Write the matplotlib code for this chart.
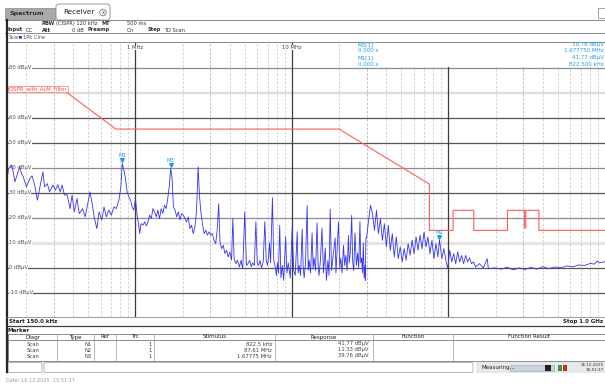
import matplotlib
matplotlib.use("Agg")
import matplotlib.pyplot as plt
import matplotlib.transforms as mtransforms
from matplotlib.patches import Rectangle, FancyBboxPatch, Circle
from matplotlib.ticker import NullLocator

# ── trace data (MHz / dBuV) ──────────────────────────────────────────────
f_band1 = [0.1532, 0.1539, 0.158, 0.1618, 0.1655, 0.1697, 0.176, 0.1826, 0.187, 0.1916,
           0.2012, 0.2112, 0.2184, 0.2225, 0.2272, 0.2362, 0.2443, 0.2563, 0.2628, 0.2733,
           0.2827, 0.2967, 0.3085, 0.319, 0.3304, 0.3401, 0.3518, 0.3658, 0.3822, 0.3935,
           0.4069, 0.4231, 0.4376, 0.4592, 0.4775, 0.4939, 0.5114, 0.5266, 0.5446, 0.5665,
           0.5857, 0.6091, 0.6299, 0.6514, 0.6776, 0.7007, 0.7288, 0.7536, 0.784, 0.8073,
           0.8225, 0.8432, 0.8643, 0.8848, 0.9071, 0.9298, 0.9517, 0.9755]
l_band1 = [37.5, 39.1, 40.5, 41.1, 38.5, 34.4, 37.5, 40.4, 37.7, 36.5,
           32.4, 35.7, 36.8, 35.0, 33.1, 27.1, 31.7, 38.4, 32.4, 33.7,
           30.4, 33.1, 31.1, 33.3, 30.4, 33.1, 29.1, 29.3, 23.7, 29.1,
           22.4, 27.7, 21.7, 23.7, 20.4, 25.1, 30.4, 26.4, 20.4, 15.7,
           22.4, 19.1, 24.4, 20.4, 23.1, 21.1, 24.4, 23.7, 27.1, 32.4,
           41.77, 39.1, 35.7, 30.4, 28.4, 27.1, 24.4, 23.1]

f_band2 = [1.0, 1.0236, 1.0493, 1.0647, 1.0849, 1.1171, 1.1452, 1.1739, 1.2015, 1.2317,
           1.2626, 1.2923, 1.3247, 1.358, 1.39, 1.4249, 1.4606, 1.495, 1.5325, 1.571,
           1.608, 1.6484, 1.6726, 1.67775, 1.7148, 1.7476, 1.7916, 1.8337, 1.8799, 1.9269,
           1.9722, 2.0218, 2.0727, 2.1214, 2.1746, 2.2293, 2.2818, 2.3392, 2.3977, 2.4545,
           2.5159, 2.5644, 2.617, 2.6786, 2.746, 2.815, 2.8813, 2.9535, 3.0274, 3.0986,
           3.1764, 3.2562, 3.3329, 3.401, 3.4666, 3.5532, 3.6375, 3.7285, 3.8222, 3.9121,
           4.0107, 4.1109, 4.1902, 4.2702, 4.3769, 4.487, 4.62, 4.7289, 4.8475, 4.9913]
l_band2 = [27.7, 21.1, 17.1, 13.7, 17.7, 17.1, 18.4, 16.8, 18.4, 21.1,
           19.7, 23.7, 22.4, 20.4, 23.1, 19.7, 23.7, 21.7, 25.1, 23.7,
           27.7, 33.1, 38.4, 39.76, 35.7, 24.4, 23.1, 20.4, 22.4, 19.1,
           21.7, 21.1, 19.7, 18.4, 20.4, 15.7, 17.1, 13.7, 16.4, 22.4,
           40.4, 29.1, 22.4, 17.7, 13.7, 15.1, 13.1, 14.4, 13.1, 13.7,
           11.1, 9.7, 15.7, 25.7, 10.4, 7.7, 9.1, 5.7, 7.1, 4.4,
           6.4, 3.1, 19.7, 3.7, 1.7, 3.1, 0.4, 3.1, -0.3, 22.4]

f_band3 = [5.117, 5.21, 5.37, 5.5, 5.61, 5.75, 5.88, 6.0, 6.12, 6.25,
           6.39, 6.55, 6.71, 6.85, 6.98, 7.08, 7.18, 7.3, 7.5, 7.65,
           7.84, 7.95, 8.07, 8.2, 8.35, 8.5, 8.68, 8.85, 9.11, 9.28,
           9.47, 9.75, 10.04, 10.25, 10.49, 10.8, 10.95, 11.12, 11.35, 11.62,
           11.8, 11.96, 12.2, 12.5, 12.7, 12.87, 13.15, 13.44, 13.65, 13.84,
           14.15, 14.46, 14.7, 14.89, 15.2, 15.55, 15.9, 16.32, 16.6, 16.97,
           17.25, 17.55, 17.9, 18.26, 18.87, 19.1, 19.35, 19.84, 20.2, 20.51,
           20.9, 21.34, 21.7, 22.07, 22.5, 22.96, 23.2, 23.6, 24.08, 24.4,
           24.8, 25.27, 25.8, 26.29, 26.7, 27.19, 27.5, 27.87, 28.2, 28.56,
           28.9, 29.24, 29.45, 29.67]
l_band3 = [1.1, 1.5, 3, 0.5, 2, 1, 18.5, 2, 1, 3,
           0, 2.5, 18.5, 3, 1, 4, 10, 2, 28, 3,
           0, -3, 2, -2, 17, -4, 1, -5, 12.5, -2,
           2, -4, 16.5, -1, -3, 14.5, -2, 1, -3, 15.5,
           0, -4, 2, 25, -1, 3, -2, 14, 0, 4,
           -1, 18, 1, -3, 3, 16, -2, 8, -5, 3,
           -3, 23.5, -1, 4, 12, -2, 5, 18.5, 0, 4,
           -2, 9, 1, 5, -1, 13, 2, 6, 21, 3,
           -1, 14, 1, 6, 0, 18.5, 2, 4, -2, 10,
           -4, 1, -5, 12]

f_band4 = [29.97, 30.85, 31.76, 32.7, 33.66, 34.66, 35.68, 36.74, 37.82, 38.94,
           40.09, 41.27, 42.49, 43.75, 45.04, 46.38, 47.75, 49.16, 50.61, 52.11,
           53.65, 55.24, 56.88, 58.55, 60.29, 62.08, 63.92, 65.8, 67.76, 69.77,
           71.82, 73.96, 76.13, 78.39, 80.72, 83.11, 85.56, 87.61, 90.7, 93.39,
           96.14, 98.99, 101.9, 104.9, 108.0, 111.2, 114.5, 117.9, 121.4, 125.0,
           128.7, 132.5, 136.4, 140.4, 144.6, 148.9, 157.8, 167.2, 176.6, 179.9,
           199.3, 217.5, 237.3, 259.0, 282.7, 308.5, 336.6, 367.4, 401.0, 437.7,
           477.6, 521.3, 569.0, 620.9, 677.6, 739.5, 807.0, 855.6, 894.0, 920.0,
           1000.0]
l_band4 = [12, 19, 25, 21.7, 15, 23, 13.7, 19.7, 11, 17.7,
           8.4, 17, 7, 13.7, 4.4, 12.4, 3.7, 8.4, 2.4, 7.7,
           3.1, 9.7, 5.1, 11.1, 5.7, 12.4, 7.1, 13.1, 7.7, 14.4,
           8.4, 12.4, 5.7, 11, 3.7, 9.7, 4.4, 11.33, 3.7, 7.7,
           3.1, -0.2, 7.1, 2.4, 5.7, 1.7, 6.4, 2.4, 5, 1.7,
           5, 2.4, 4, 1.7, 2.4, 0.4, 1.7, 0, 3.7, -0.3,
           0, -0.5, 0.3, -0.8, 0, -0.6, 0.2, -0.5, 0.5, -0.3,
           0.4, 0, 0.8, 0.4, 1.2, 1.0, 1.8, 1.5, 2.8, 2.0,
           2.5]

trace_f = f_band1 + f_band2 + f_band3 + f_band4
trace_l = l_band1 + l_band2 + l_band3 + l_band4

# limit line
limit_name = "CISPR_with_ALM_Filter"
limit_f = [0.15, 0.34, 0.75, 20, 75.5, 75.5, 107, 107, 145, 145, 238, 238, 306, 306, 312, 312, 378, 378, 1000]
limit_db = [71.5, 71.5, 55.5, 55.5, 33.5, 15, 15, 23, 23, 15, 15, 23, 23, 16, 16, 23, 23, 15, 15]

# markers
marker_names = ["M1", "M2", "M3"]
marker_f = [0.8225, 87.61, 1.67775]
marker_db = [41.77, 11.33, 39.76]

grid_levels = [80, 70, 60, 50, 40, 30, 20, 10, 0, -10]
hidden_labels = [70]          # covered by the limit line label on screen
decade_f = [1, 10, 100]
decade_labels = ["1 MHz", "10 MHz", "100 MHz"]

# marker table
tbl_diag = ["Scan", "Scan", "Scan"]
tbl_type = ["N1", "N2", "N3"]
tbl_trc = ["1", "1", "1"]
tbl_stim = ["822.5 kHz", "87.61 MHz", "1.67775 MHz"]
tbl_resp = ["41.77 dBµV", "11.33 dBµV", "39.76 dBµV"]

BLUE = "#1e9be6"
W, H = 605, 385

fig = plt.figure(figsize=(W / 100, H / 100), dpi=100)
fig.patch.set_facecolor("white")

# ── diagram ───────────────────────────────────────────────────────────────
ax = fig.add_axes([6.5 / W, 1 - 316.7 / H, (W - 6.5) / W, (316.7 - 41.5) / H])
ax.set_xscale("log")
ax.set_xlim(0.15, 1000)
ax.set_ylim(-19.5, 90.5)
ax.xaxis.set_major_locator(NullLocator())
ax.xaxis.set_minor_locator(NullLocator())
ax.yaxis.set_major_locator(NullLocator())
for s in ax.spines.values():
    s.set_visible(False)

ylab_tr = mtransforms.blended_transform_factory(ax.transAxes, ax.transData)
xlab_tr = mtransforms.blended_transform_factory(ax.transData, ax.transAxes)

grid_style = {80: ("#8c8c8c", 0.9), 70: ("#dcdcdc", 1.6), 40: ("#8c8c8c", 0.9),
              20: ("#8c8c8c", 0.9), 10: ("#e4e4e4", 2.2)}
for lv in grid_levels:
    c, lw = grid_style.get(lv, ("#555555", 0.9))
    ax.axhline(lv, color=c, lw=lw, zorder=1)
    if lv in hidden_labels:
        continue
    ax.text(0.004, lv, f"{lv} dBµV", transform=ylab_tr, fontsize=3.8, color="#505050",
            ha="left", va="center", zorder=2,
            bbox=dict(fc="white", ec="none", pad=0.2))

for dec in [0.1, 1, 10, 100]:
    for m in range(1, 10):
        f = m * dec
        if f <= 0.15 or f >= 1000:
            continue
        if m == 1:
            ax.axvline(f, color="#3c3c3c", lw=0.9, zorder=1)
        else:
            c = "#b4b4b4" if m == 3 else "#cdcdcd"
            ax.axvline(f, color=c, lw=0.6, ls=(0, (3, 2)), zorder=1)

for f, lab in zip(decade_f, decade_labels):
    ax.text(f, 0.988, lab, transform=xlab_tr, fontsize=3.8, color="#404040",
            ha="center", va="top", zorder=2, bbox=dict(fc="white", ec="none", pad=0.2))

ax.plot(limit_f, limit_db, color="#ff5c5c", lw=0.8, zorder=3)
ax.text(0.003, limit_db[0], limit_name, transform=ylab_tr, fontsize=3.8, color="#ff4040",
        ha="left", va="center", zorder=6,
        bbox=dict(fc="white", ec="#ff7070", lw=0.5, pad=0.4))

ax.plot(trace_f, trace_l, color="#3434f2", lw=0.6, zorder=4)

for name, f, lv in zip(marker_names, marker_f, marker_db):
    tri_tr = mtransforms.offset_copy(ax.transData, fig=fig, y=2.2, units="points")
    txt_tr = mtransforms.offset_copy(ax.transData, fig=fig, y=3.6, units="points")
    ax.plot([f], [lv], marker="v", ms=2.6, color=BLUE, transform=tri_tr, zorder=7)
    ax.text(f, lv, name, transform=txt_tr, fontsize=3.8, color=BLUE,
            ha="center", va="bottom", zorder=7)

# ── instrument chrome (pixel coordinates) ─────────────────────────────────
ui = fig.add_axes([0, 0, 1, 1], zorder=5)
ui.set_xlim(0, W)
ui.set_ylim(H, 0)
ui.axis("off")
ui.patch.set_alpha(0)

# tabs
ui.add_patch(Rectangle((5, 8), 50, 11.5, fc="#a9a9a9", ec="#8a8a8a", lw=0.5))
ui.text(10, 14, "Spectrum", fontsize=4.6, fontweight="bold", color="#303030", va="center")
ui.add_patch(FancyBboxPatch((56, 4), 54, 16, boxstyle="round,pad=0,rounding_size=3",
                            fc="white", ec="#8a8a8a", lw=0.6))
ui.text(63, 12.5, "Receiver", fontsize=5.2, color="#202020", va="center")
ui.add_patch(Circle((103, 12.5), 3.3, fc="white", ec="#606060", lw=0.5))
ui.text(103, 12.6, "x", fontsize=3.8, color="#404040", ha="center", va="center")
ui.add_patch(Rectangle((598, 8), 7, 10, fc="white", ec="#808080", lw=0.5))

# header
ui.plot([5, W], [19.5, 19.5], color="#8a8a8a", lw=0.7)
ui.plot([5, W], [33.3, 33.3], color="#8a8a8a", lw=0.7)
ui.plot([6.5, W], [41.5, 41.5], color="#8a8a8a", lw=0.7)
hdr = dict(fontsize=3.7, color="#303030", va="center")
ui.text(42, 23.5, "RBW", fontweight="bold", **hdr)
ui.text(56, 23.5, "(CISPR) 120 kHz", **hdr)
ui.text(101, 23.5, "MT", fontweight="bold", **hdr)
ui.text(127, 23.5, "500 ms", **hdr)
ui.text(8, 30, "Input", fontweight="bold", **hdr)
ui.text(26, 30, "DC", **hdr)
ui.text(42, 30, "Att", fontweight="bold", **hdr)
ui.text(84, 30, "0 dB", ha="right", **hdr)
ui.text(88, 30, "Preamp", fontweight="bold", **hdr)
ui.text(127, 30, "On", **hdr)
ui.text(148, 30, "Step", fontweight="bold", **hdr)
ui.text(164, 30, "TD Scan", **hdr)
ui.text(9, 37.3, "Scan", fontsize=3.7, color="#505050", va="center")
ui.add_patch(Circle((20.5, 37.3), 1.5, fc="#2030d0", ec="none"))
ui.text(23, 37.3, "1Pk Clrw", fontsize=3.7, color="#505050", va="center")

# marker info box
ui.add_patch(Rectangle((356, 42), W - 356, 25, fc="white", ec="none"))
mk = dict(fontsize=4, color=BLUE, va="center")
ui.text(358, 44.5, "M3[1]", **mk)
ui.text(358, 51, "0.000 s", **mk)
ui.text(358, 57.5, "M1[1]", **mk)
ui.text(358, 64, "0.000 s", **mk)
ui.text(604, 44.5, "39.76 dBµV", ha="right", **mk)
ui.text(604, 51, "1.677750 MHz", ha="right", **mk)
ui.text(604, 57.5, "41.77 dBµV", ha="right", **mk)
ui.text(604, 64, "822.500 kHz", ha="right", **mk)

# borders under the diagram
ui.plot([6.5, 6.5], [19.5, 372], color="#252525", lw=1.6)
ui.plot([6.5, W], [317, 317], color="#8a8a8a", lw=0.6)
ui.plot([6.5, W], [326, 326], color="#404040", lw=0.9)
ui.text(9, 321.5, "Start 150.0 kHz", fontsize=4, fontweight="bold", color="#202020", va="center")
ui.text(603, 321.5, "Stop 1.0 GHz", fontsize=4, fontweight="bold", color="#202020",
        va="center", ha="right")

# marker table
ui.text(8, 330, "Marker", fontsize=4, fontweight="bold", color="#202020", va="center")
ui.add_patch(Rectangle((8, 333.5), W - 8, 27, fc="white", ec="#7a7a7a", lw=0.6))
ui.plot([8, W], [340.3, 340.3], color="#7a7a7a", lw=0.6)
for xd in [57, 94, 116, 154, 275, 373, 453]:
    ui.plot([xd, xd], [333.5, 360.5], color="#9a9a9a", lw=0.5)
col_heads = ["Diagr", "Type", "Ref", "Trc", "Stimulus", "Response", "Function", "Function Result"]
col_cx = [33, 75, 105, 135, 215, 324, 413, 529]
for txt, cx in zip(col_heads, col_cx):
    ui.text(cx, 337, txt, fontsize=4, color="#202020", ha="center", va="center")
tb = dict(fontsize=3.8, color="#404040", va="center")
for i in range(3):
    yy = 344 + 6 * i
    ui.text(33, yy, tbl_diag[i], ha="center", **tb)
    ui.text(92, yy, tbl_type[i], ha="right", **tb)
    ui.text(152, yy, tbl_trc[i], ha="right", **tb)
    ui.text(272, yy, tbl_stim[i], ha="right", **tb)
    ui.text(369, yy, tbl_resp[i], ha="right", **tb)

# status bar
ui.add_patch(FancyBboxPatch((8, 362.5), 34, 10, boxstyle="round,pad=0,rounding_size=1.5",
                            fc="white", ec="#9a9a9a", lw=0.5))
ui.add_patch(FancyBboxPatch((44, 362.5), 429, 10, boxstyle="round,pad=0,rounding_size=1.5",
                            fc="white", ec="#9a9a9a", lw=0.5))
ui.add_patch(Rectangle((476, 362), W - 476, 11, fc="#e8e8e8", ec="none"))
ui.text(481, 367.5, "Measuring...", fontsize=4, color="#202020", va="center")
ui.add_patch(Rectangle((510, 364.5), 44, 6, fc="#c9d3de", ec="#9aa6b2", lw=0.4))
ui.add_patch(Rectangle((545, 364.5), 6, 6, fc="#202020", ec="none"))
ui.add_patch(Rectangle((558, 364.5), 4, 6, fc="#3a9a3a", ec="none"))
ui.add_patch(Rectangle((562.5, 364.5), 4, 6, fc="#c03030", ec="none"))
ui.text(604, 365.3, "16.12.2025", fontsize=3, color="#303030", ha="right", va="center")
ui.text(604, 370.3, "15:51:37", fontsize=3, color="#303030", ha="right", va="center")

ui.text(6, 381, "Date: 16.12.2025  15:51:37", fontsize=3.6, color="#9a9a9a", va="center")

fig.savefig("out.png", dpi=100, facecolor="white")
